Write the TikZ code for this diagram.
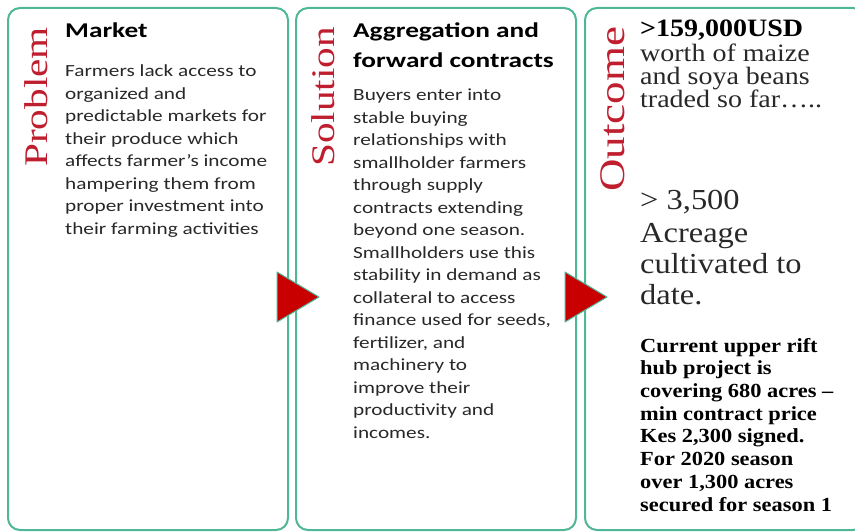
\documentclass[tikz,border=0pt]{standalone}
\usepackage{fontspec}
\setsansfont[FakeStretch=1.25]{Carlito}
\newfontfamily\headfont[FakeStretch=1.3]{Carlito}
\newfontfamily\tagfont[FakeStretch=1.25]{Liberation Serif}
\newfontfamily\numfont[FakeStretch=1.12]{Liberation Serif}
\usepackage{xcolor}
\usepackage{tikz}
\usetikzlibrary{calc}
\usetikzlibrary{positioning}

\definecolor{boxline}{RGB}{80,182,152}
\definecolor{arrowred}{RGB}{200,0,0}
\definecolor{tagred}{RGB}{190,30,45}
\definecolor{bodygray}{RGB}{40,40,40}

% text nodes are placed by the baseline of their last line
\tikzset{
  panel/.style={draw=boxline, line width=2pt, rounded corners=12pt, minimum width=280pt, minimum height=522pt, inner sep=0pt},
  tag/.style={rotate=90, anchor=base west, inner sep=0pt, text=tagred},
  head/.style={anchor=base west, inner sep=0pt, align=left, font=\headfont\bfseries\fontsize{21}{30}\selectfont},
  body/.style={anchor=base west, inner sep=0pt, align=left, text=bodygray, font=\sffamily\fontsize{17}{22.5}\selectfont},
  numtext/.style={anchor=base west, inner sep=0pt, align=left, text=bodygray},
  pointer/.style={fill=arrowred, draw=boxline, line width=1pt, line join=round},
}

\begin{document}
\begin{tikzpicture}[x=1pt,y=1pt]
	\useasboundingbox (0,0) rectangle (855,-532);
	\clip (0,0) rectangle (855,-532);
	% the three panels
	\node[panel] (problem) at (148,-269) {};
	\node[panel] (solution) at (436,-269) {};
	\node[panel] (outcome) at (725,-269) {};
	% pointers between panels
	\filldraw[pointer] ($(problem.east)+(-12,-3)$) -- ($(problem.east)+(30,-28)$) -- ($(problem.east)+(-12,-53)$) -- cycle;
	\filldraw[pointer] ($(solution.east)+(-12,-3)$) -- ($(solution.east)+(30,-28)$) -- ($(solution.east)+(-12,-53)$) -- cycle;
	% problem
	\node[tag, font=\tagfont\fontsize{33}{33}\selectfont] (problemtag) at (47,-167) {Problem};
	\node[head] (markethead) at (65,-38) {Market};
	\node[body] (marketbody) at (65,-234) {Farmers lack access to\\organized and\\predictable markets for\\their produce which\\affects farmer’s income\\hampering them from\\proper investment into\\their farming activities};
	% solution
	\node[tag, font=\tagfont\fontsize{33}{33}\selectfont] (solutiontag) at (334,-167) {Solution};
	\node[head] (contracthead) at (353,-68) {Aggregation and\\forward contracts};
	\node[body] (contractbody) at (353,-438) {Buyers enter into\\stable buying\\relationships with\\smallholder farmers\\through supply\\contracts extending\\beyond one season.\\Smallholders use this\\stability in demand as\\collateral to access\\finance used for seeds,\\fertilizer, and\\machinery to\\improve their\\productivity and\\incomes.};
	% outcome
	\node[tag, font=\tagfont\fontsize{36}{36}\selectfont] (outcometag) at (624,-192) {Outcome};
	\node[numtext, text=black, font=\numfont\bfseries\fontsize{25}{25}\selectfont] (usdnum) at (640,-37) {>159,000USD};
	\node[numtext, font=\numfont\fontsize{25}{22.5}\selectfont] (usdtext) at (640,-108) {worth of maize\\and soya beans\\traded so far…..};
	\node[numtext, font=\numfont\fontsize{29}{29}\selectfont] (acrenum) at (640,-210) {> 3,500};
	\node[numtext, font=\numfont\fontsize{29}{31}\selectfont] (acretext) at (640,-304) {Acreage\\cultivated to\\date.};
	\node[numtext, text=black, font=\numfont\bfseries\fontsize{20}{22.7}\selectfont] (hubtext) at (640,-511) {Current upper rift\\hub project is\\covering 680 acres –\\min contract price\\Kes 2,300 signed.\\For 2020 season\\over 1,300 acres\\secured for season 1};
\end{tikzpicture}
\end{document}
